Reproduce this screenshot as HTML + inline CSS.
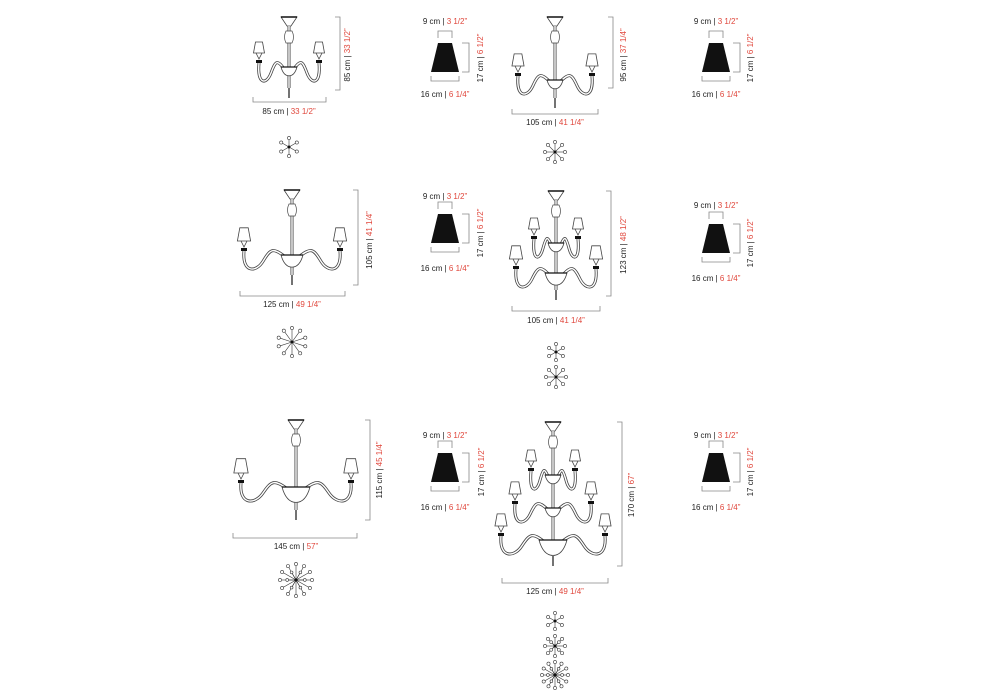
<!DOCTYPE html>
<html><head><meta charset="utf-8"><style>
body{margin:0;background:#fff}
svg{display:block}
text{font-family:"Liberation Sans",sans-serif;font-size:8px;fill:#222}
.r{fill:#e0473c}
.d{stroke:#888;stroke-width:0.8;fill:none}
</style></head><body>
<svg id="s" width="1000" height="700" viewBox="0 0 1000 700">
<g id="txt" text-anchor="middle">
<text x="289" y="114">85 cm | <tspan class="r">33 1/2”</tspan></text>
<text transform="translate(350,55) rotate(-90)">85 cm | <tspan class="r">33 1/2”</tspan></text>
<text x="555" y="125">105 cm | <tspan class="r">41 1/4”</tspan></text>
<text transform="translate(626,55) rotate(-90)">95 cm | <tspan class="r">37 1/4”</tspan></text>
<text x="292" y="307">125 cm | <tspan class="r">49 1/4”</tspan></text>
<text transform="translate(372,240) rotate(-90)">105 cm | <tspan class="r">41 1/4”</tspan></text>
<text x="556" y="323">105 cm | <tspan class="r">41 1/4”</tspan></text>
<text transform="translate(626,245) rotate(-90)">123 cm | <tspan class="r">48 1/2”</tspan></text>
<text x="296" y="549">145 cm | <tspan class="r">57”</tspan></text>
<text transform="translate(382,470) rotate(-90)">115 cm | <tspan class="r">45 1/4”</tspan></text>
<text x="555" y="594">125 cm | <tspan class="r">49 1/4”</tspan></text>
<text transform="translate(634,495) rotate(-90)">170 cm | <tspan class="r">67”</tspan></text>

<text x="445" y="24">9 cm | <tspan class="r">3 1/2”</tspan></text>
<text x="445" y="97">16 cm | <tspan class="r">6 1/4”</tspan></text>
<text transform="translate(483,58) rotate(-90)">17 cm | <tspan class="r">6 1/2”</tspan></text>
<text x="716" y="24">9 cm | <tspan class="r">3 1/2”</tspan></text>
<text x="716" y="97">16 cm | <tspan class="r">6 1/4”</tspan></text>
<text transform="translate(753,58) rotate(-90)">17 cm | <tspan class="r">6 1/2”</tspan></text>
<text x="445" y="199">9 cm | <tspan class="r">3 1/2”</tspan></text>
<text x="445" y="271">16 cm | <tspan class="r">6 1/4”</tspan></text>
<text transform="translate(483,233) rotate(-90)">17 cm | <tspan class="r">6 1/2”</tspan></text>
<text x="716" y="208">9 cm | <tspan class="r">3 1/2”</tspan></text>
<text x="716" y="281">16 cm | <tspan class="r">6 1/4”</tspan></text>
<text transform="translate(753,243) rotate(-90)">17 cm | <tspan class="r">6 1/2”</tspan></text>
<text x="445" y="438">9 cm | <tspan class="r">3 1/2”</tspan></text>
<text x="445" y="510">16 cm | <tspan class="r">6 1/4”</tspan></text>
<text transform="translate(484,472) rotate(-90)">17 cm | <tspan class="r">6 1/2”</tspan></text>
<text x="716" y="438">9 cm | <tspan class="r">3 1/2”</tspan></text>
<text x="716" y="510">16 cm | <tspan class="r">6 1/4”</tspan></text>
<text transform="translate(753,472) rotate(-90)">17 cm | <tspan class="r">6 1/2”</tspan></text>
</g>
<g id="g"></g>
</svg>
<script>
var g=document.getElementById('g'),h='';
function P(d,st){h+='<path d="'+d+'" '+(st||'fill="none" stroke="#444" stroke-width="0.8"')+'/>';}
function dimV(x,y1,y2){P('M'+(x-5)+' '+y1+'H'+x+'V'+y2+'H'+(x-5),'class="d"');}
function dimH(y,x1,x2){P('M'+x1+' '+(y-5)+'V'+y+'H'+x2+'V'+(y-5),'class="d"');}
function shadeBlk(cx,t){
 P('M'+(cx-7)+' '+(t-5)+'V'+(t-12)+'H'+(cx+7)+'V'+(t-5),'class="d"');
 P('M'+(cx-7)+' '+t+'H'+(cx+7)+'L'+(cx+14)+' '+(t+29)+'H'+(cx-14)+'Z','fill="#111"');
 P('M'+(cx-14)+' '+(t+33)+'V'+(t+38)+'H'+(cx+14)+'V'+(t+33),'class="d"');
 P('M'+(cx+17)+' '+t+'H'+(cx+24)+'V'+(t+29)+'H'+(cx+17),'class="d"');
}
function lamp(x,y,s){
 P('M'+(x-s*0.35)+' '+(y-s*1.1)+'H'+(x+s*0.35)+'L'+(x+s*0.55)+' '+y+'H'+(x-s*0.55)+'Z','fill="#fff" stroke="#444" stroke-width="0.8"');
 P('M'+(x-3)+' '+y+'L'+x+' '+(y+6)+'L'+(x+3)+' '+y,'');
 P('M'+(x-3)+' '+(y+7)+'h6v3h-6z','fill="#111"');
}
function tube(d){P(d,'fill="none" stroke="#444" stroke-width="3"');P(d,'fill="none" stroke="#fff" stroke-width="1.4"');}
function chand(cx,top,bot,tiers){
 P('M'+(cx-8)+' '+top+'H'+(cx+8)+'L'+(cx+2)+' '+(top+9)+'H'+(cx-2)+'Z','fill="#fff" stroke="#444" stroke-width="0.8"');
 P('M'+(cx-8)+' '+top+'H'+(cx+8),'stroke="#111" stroke-width="1.5"');
 tube('M'+cx+' '+(top+9)+'V'+(bot-10));
 P('M'+(cx-3)+' '+(top+14)+'q-3 6 0 12h6q3 -6 0 -12z','fill="#fff" stroke="#444" stroke-width="0.7"');
 tiers.forEach(function(t){
  var by=t[0],w=t[1],s=t[2],bw=t[3]||8;
  [-1,1].forEach(function(k){
   var ex=cx+k*w;
   tube('M'+(cx+k*bw*0.6)+' '+(by+2)+'C'+(cx+k*w*0.4)+' '+(by-8)+' '+(cx+k*w*0.45)+' '+(by-6)+' '+(cx+k*w*0.6)+' '+(by+6)+'S'+(ex+k*2)+' '+(by+18)+' '+ex+' '+(by-4));
   lamp(ex,by-14,s);
  });
  P('M'+(cx-bw)+' '+by+'H'+(cx+bw)+'Q'+(cx+bw*0.7)+' '+(by+bw*1.1)+' '+cx+' '+(by+bw*1.1)+'Q'+(cx-bw*0.7)+' '+(by+bw*1.1)+' '+(cx-bw)+' '+by+'Z','fill="#fff" stroke="#444" stroke-width="0.8"');
  P('M'+(cx-bw)+' '+by+'H'+(cx+bw),'stroke="#111" stroke-width="1.2"');
 });
 P('M'+cx+' '+(bot-10)+'v10','stroke="#444" stroke-width="1.5"');
}
function star(cx,cy,r,n,inner){
 var a,x,y,i;for(i=0;i<n;i++){a=i*2*Math.PI/n-Math.PI/2;x=cx+r*Math.cos(a);y=cy+r*Math.sin(a);
 P('M'+cx+' '+cy+'L'+x.toFixed(1)+' '+y.toFixed(1),'stroke="#333" stroke-width="0.6"');
 h+='<circle cx="'+x.toFixed(1)+'" cy="'+y.toFixed(1)+'" r="1.6" fill="#fff" stroke="#333" stroke-width="0.6"/>';}
 if(inner){for(i=0;i<inner;i++){a=i*2*Math.PI/inner-Math.PI/2+Math.PI/inner;x=cx+r*0.55*Math.cos(a);y=cy+r*0.55*Math.sin(a);
 P('M'+cx+' '+cy+'L'+x.toFixed(1)+' '+y.toFixed(1),'stroke="#333" stroke-width="0.6"');
 h+='<circle cx="'+x.toFixed(1)+'" cy="'+y.toFixed(1)+'" r="1.4" fill="#fff" stroke="#333" stroke-width="0.6"/>';}}
 h+='<circle cx="'+cx+'" cy="'+cy+'" r="1.5" fill="#111"/>';
}
chand(289,17,98,[[67,30,10]]);dimV(340,17,90);dimH(102,253,326);star(289,147,9,6);
shadeBlk(445,43);
chand(555,17,108,[[80,37,11]]);dimV(613,17,88);dimH(114,512,598);star(555,152,10,8);
shadeBlk(716,43);
chand(292,190,285,[[255,48,12,11]]);dimV(358,190,285);dimH(296,240,345);star(292,342,14,10);
shadeBlk(445,214);
chand(556,191,300,[[243,22,10],[273,40,12,11]]);dimV(611,191,296);dimH(311,512,600);star(556,352,8,6);star(556,377,10,8);
shadeBlk(716,224);
chand(296,420,520,[[487,55,13,14]]);dimV(370,420,520);dimH(538,233,357);star(296,580,16,12,6);
shadeBlk(445,453);
chand(553,422,566,[[475,22,10],[508,38,11,8],[540,52,11,14]]);dimV(622,422,566);dimH(583,502,608);
star(555,621,8,6);star(555,646,10,8,4);star(555,675,13,12,6);
shadeBlk(716,453);
g.innerHTML=h;
</script>
</body></html>
